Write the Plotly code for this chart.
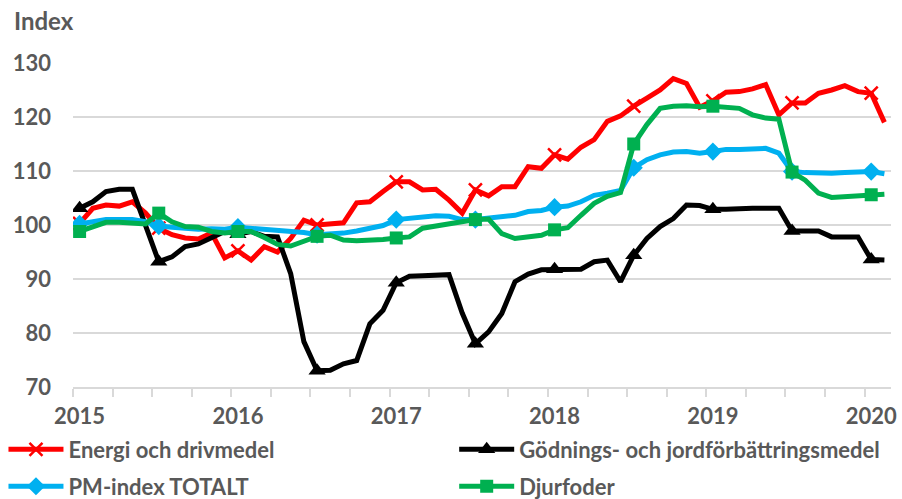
import plotly.graph_objects as go

years = ["2015", "2016", "2017", "2018", "2019", "2020"]
n_months = 62  # Jan 2015 .. Feb 2020

energi = [100.3, 103.1, 103.7, 103.5, 104.3, 102.2, 99.4, 98.2, 97.6, 97.4, 98.5, 93.9,
          95.2, 93.5, 96.0, 95.0, 97.5, 100.9, 100.0, 100.2, 100.4, 104.1, 104.3, 106.2,
          108.0, 108.0, 106.5, 106.6, 104.6, 102.2, 106.5, 105.4, 107.1, 107.1, 110.8, 110.5,
          113.0, 112.2, 114.4, 115.8, 119.2, 120.2, 122.0, 123.5, 125.0, 127.1, 126.2, 121.8,
          123.0, 124.6, 124.7, 125.2, 126.0, 120.4, 122.6, 122.6, 124.4, 125.0, 125.8, 124.7,
          124.4, 119.0]

godning = [103.1, 104.3, 106.2, 106.6, 106.6, 99.7, 93.2, 94.1, 96.0, 96.5, 97.7, 98.8,
           98.3, 98.8, 97.9, 97.8, 91.0, 78.4, 73.0, 73.1, 74.3, 74.9, 81.7, 84.2,
           89.3, 90.5, 90.6, 90.7, 90.8, 83.7, 78.0, 80.2, 83.6, 89.5, 90.9, 91.7,
           91.8, 91.8, 91.8, 93.2, 93.5, 89.5, 94.4, 97.5, 99.7, 101.2, 103.7, 103.6,
           102.9, 102.9, 103.1, 103.1, 103.1, 103.1, 98.9, 98.8, 98.9, 97.8, 97.8, 97.8,
           93.6, 93.5]

pm_total = [100.2, 100.6, 101.0, 101.0, 101.0, 100.6, 99.8, 99.6, 99.3, 99.2, 99.3, 99.2,
            99.6, 99.4, 99.4, 99.2, 99.0, 98.6, 98.2, 98.3, 98.5, 98.9, 99.3, 99.9,
            101.0, 101.2, 101.3, 101.7, 101.6, 101.0, 101.0, 101.2, 101.4, 101.8, 102.5, 102.7,
            103.3, 103.5, 104.3, 105.5, 105.9, 106.4, 110.6, 112.1, 113.0, 113.5, 113.6, 113.3,
            113.6, 114.0, 114.0, 114.0, 114.2, 113.3, 109.9, 109.7, 109.6, 109.6, 109.7, 109.7,
            109.9, 109.5]

djurfoder = [98.8, 99.7, 100.5, 100.5, 100.3, 100.2, 102.2, 100.6, 99.7, 99.6, 98.8, 98.5,
             98.8, 98.8, 97.7, 96.4, 96.1, 96.9, 97.9, 98.1, 97.2, 97.1, 97.1, 97.3,
             97.6, 97.8, 99.4, 99.8, 100.2, 100.5, 101.0, 101.1, 98.4, 97.5, 97.8, 98.1,
             99.1, 99.5, 101.8, 104.0, 105.3, 106.0, 115.0, 118.6, 121.6, 122.0, 122.1, 121.9,
             122.0, 121.9, 121.6, 120.4, 119.8, 119.6, 109.8, 108.3, 105.9, 105.1, 105.3, 105.4,
             105.6, 105.7]

names = ["Energi och drivmedel", "Gödnings- och jordförbättringsmedel",
         "PM-index TOTALT", "Djurfoder"]
colors = ["#FF0000", "#000000", "#00B0F0", "#00B050"]
symbols = ["x-thin-open", "triangle-up", "diamond", "square"]
msizes = [13, 15, 14, 13]
legends = ["legend", "legend2", "legend3", "legend4"]
series = [energi, godning, pm_total, djurfoder]

x = list(range(n_months))
mark_idx = list(range(0, n_months, 6))

fig = go.Figure()
for s, nm, c, sym, ms, lg in zip(series, names, colors, symbols, msizes, legends):
    mline = dict(width=2.5, color=c) if sym == "x-thin-open" else dict(width=0)
    fig.add_trace(go.Scatter(x=x, y=s, mode="lines", line=dict(color=c, width=5),
                             showlegend=False, hoverinfo="skip"))
    fig.add_trace(go.Scatter(x=[x[i] for i in mark_idx], y=[s[i] for i in mark_idx],
                             mode="markers", showlegend=False,
                             marker=dict(symbol=sym, size=ms, color=c, line=mline)))
    fig.add_trace(go.Scatter(x=[None], y=[None], mode="lines+markers", name=nm,
                             line=dict(color=c, width=5), legend=lg,
                             marker=dict(symbol=sym, size=ms, color=c, line=mline)))

font_fam = "Lato, 'Liberation Sans', Arial, sans-serif"
txt = "#595959"
grid = "#D9D9D9"
fs = 22

def leg(xp, yp):
    return dict(x=xp, xanchor="left", y=yp, yanchor="middle", itemwidth=55,
                font=dict(family=font_fam, size=fs, color=txt, weight="bold"),
                bgcolor="rgba(0,0,0,0)")

fig.update_layout(
    width=902, height=499,
    margin=dict(l=73, r=11, t=63, b=112, autoexpand=False),
    paper_bgcolor="white", plot_bgcolor="white",
    font=dict(family=font_fam, color=txt, size=fs),
    xaxis=dict(range=[-0.5, n_months - 0.5], tickmode="array",
               tickvals=[12 * k for k in range(len(years))], ticktext=years,
               ticks="", showgrid=False, zeroline=False,
               showline=True, linecolor=grid, linewidth=1.5,
               tickfont=dict(family=font_fam, size=fs, color=txt, weight="bold"),
               ticklabelstandoff=9,
               minor=dict(tickmode="array",
                          tickvals=[-0.5 + 3 * k for k in range(21)],
                          ticks="outside", ticklen=8, tickcolor=grid, tickwidth=1.5,
                          showgrid=False)),
    yaxis=dict(range=[70, 130], tickmode="array", tickvals=[70, 80, 90, 100, 110, 120, 130],
               showgrid=True, gridcolor=grid, gridwidth=1.5, zeroline=False,
               ticks="", showline=False,
               tickfont=dict(family=font_fam, size=fs, color=txt, weight="bold"),
               ticklabelstandoff=21),
    legend=leg(-0.085, -0.193),
    legend2=leg(0.466, -0.193),
    legend3=leg(-0.085, -0.307),
    legend4=leg(0.466, -0.307),
    annotations=[dict(text="<b>Index</b>", xref="paper", yref="paper",
                      x=-0.075, xanchor="left", y=1.0, yanchor="bottom", yshift=26,
                      showarrow=False, font=dict(family=font_fam, size=24, color=txt))],
)

fig.write_html("out.html", config={"displayModeBar": False},
               post_script="document.body.style.margin='0';")
